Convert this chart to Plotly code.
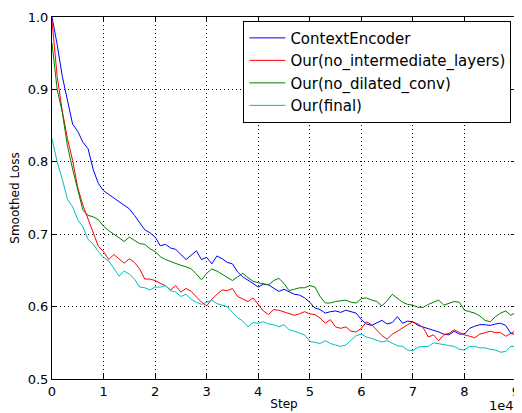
import plotly.graph_objects as go

steps = [i * 1000 for i in range(91)]

context_encoder = [
    1.000, 0.962, 0.918, 0.884, 0.852, 0.842, 0.827, 0.818, 0.789, 0.770,
    0.760, 0.755, 0.750, 0.744, 0.740, 0.735, 0.726, 0.716, 0.706, 0.702,
    0.696, 0.684, 0.686, 0.681, 0.679, 0.672, 0.665, 0.671, 0.677, 0.665,
    0.668, 0.659, 0.670, 0.666, 0.661, 0.659, 0.648, 0.641, 0.637, 0.632,
    0.627, 0.631, 0.630, 0.625, 0.621, 0.624, 0.620, 0.617, 0.616, 0.612,
    0.606, 0.598, 0.596, 0.591, 0.593, 0.594, 0.592, 0.595, 0.593, 0.591,
    0.582, 0.576, 0.574, 0.578, 0.581, 0.576, 0.578, 0.586, 0.577, 0.580,
    0.579, 0.574, 0.572, 0.570, 0.567, 0.565, 0.562, 0.561, 0.566, 0.562,
    0.562, 0.570, 0.573, 0.575, 0.575, 0.574, 0.576, 0.577, 0.574, 0.563,
    0.561,
]

no_intermediate = [
    0.995, 0.918, 0.870, 0.832, 0.802, 0.764, 0.740, 0.720, 0.700, 0.683,
    0.676, 0.665, 0.672, 0.666, 0.660, 0.666, 0.661, 0.652, 0.638, 0.638,
    0.636, 0.632, 0.629, 0.623, 0.629, 0.620, 0.625, 0.621, 0.614, 0.606,
    0.601, 0.610, 0.617, 0.623, 0.622, 0.625, 0.614, 0.610, 0.607, 0.612,
    0.603, 0.594, 0.589, 0.596, 0.595, 0.593, 0.591, 0.588, 0.590, 0.593,
    0.590, 0.589, 0.584, 0.577, 0.582, 0.572, 0.570, 0.572, 0.566, 0.565,
    0.570, 0.579, 0.575, 0.568, 0.560, 0.555, 0.562, 0.566, 0.571, 0.575,
    0.579, 0.576, 0.571, 0.558, 0.561, 0.553, 0.561, 0.563, 0.568, 0.564,
    0.561, 0.559, 0.557, 0.562, 0.564, 0.566, 0.564, 0.564, 0.559, 0.563,
    0.567,
]

no_dilated = [
    0.964, 0.900, 0.868, 0.822, 0.790, 0.760, 0.733, 0.726, 0.724, 0.720,
    0.711, 0.705, 0.700, 0.696, 0.690, 0.696, 0.692, 0.687, 0.686, 0.680,
    0.676, 0.669, 0.665, 0.662, 0.659, 0.657, 0.655, 0.652, 0.645, 0.637,
    0.646, 0.652, 0.649, 0.645, 0.641, 0.636, 0.641, 0.646, 0.640, 0.635,
    0.633, 0.632, 0.630, 0.636, 0.639, 0.632, 0.622, 0.624, 0.626, 0.626,
    0.629, 0.627, 0.614, 0.605, 0.605, 0.607, 0.608, 0.609, 0.606, 0.605,
    0.611, 0.612, 0.609, 0.607, 0.601, 0.608, 0.617, 0.612, 0.606, 0.603,
    0.602, 0.599, 0.599, 0.603, 0.606, 0.609, 0.602, 0.605, 0.607, 0.606,
    0.595, 0.593, 0.591, 0.587, 0.581, 0.579, 0.586, 0.591, 0.594, 0.588,
    0.592,
]

final = [
    0.832, 0.800, 0.776, 0.748, 0.738, 0.720, 0.710, 0.693, 0.686, 0.676,
    0.668, 0.663, 0.653, 0.642, 0.649, 0.645, 0.638, 0.627, 0.626, 0.623,
    0.627, 0.627, 0.629, 0.622, 0.620, 0.614, 0.617, 0.610, 0.606, 0.603,
    0.606, 0.609, 0.604, 0.602, 0.600, 0.592, 0.585, 0.580, 0.572, 0.578,
    0.577, 0.579, 0.576, 0.575, 0.572, 0.575, 0.568, 0.566, 0.564, 0.561,
    0.552, 0.551, 0.549, 0.553, 0.549, 0.547, 0.545, 0.547, 0.553, 0.560,
    0.562, 0.558, 0.556, 0.553, 0.551, 0.553, 0.549, 0.546, 0.545, 0.540,
    0.539, 0.544, 0.545, 0.545, 0.550, 0.549, 0.547, 0.547, 0.545, 0.541,
    0.540, 0.545, 0.545, 0.543, 0.543, 0.541, 0.540, 0.537, 0.538, 0.545,
    0.545,
]

series_names = ["ContextEncoder", "Our(no_intermediate_layers)", "Our(no_dilated_conv)", "Our(final)"]
series_colors = ["#0000ff", "#ff0000", "#008000", "#00bfbf"]
series_values = [context_encoder, no_intermediate, no_dilated, final]

x_tick_vals = [i * 10000 for i in range(10)]
x_tick_text = [str(i) for i in range(10)]
y_tick_vals = [0.5, 0.6, 0.7, 0.8, 0.9, 1.0]

fig = go.Figure()
for name, color, vals in zip(series_names, series_colors, series_values):
    fig.add_trace(go.Scatter(x=steps, y=vals, mode="lines", name=name,
                             line=dict(color=color, width=1)))

axis_common = dict(
    showline=True, linecolor="black", linewidth=1, mirror="ticks",
    ticks="inside", ticklen=5, tickcolor="black", tickwidth=1,
    showgrid=True, gridcolor="black", gridwidth=1, griddash="1px,3px",
    zeroline=False, tickfont=dict(family="DejaVu Sans", size=13, color="black"),
    ticklabeloverflow="allow",
)

# page body has an 8px margin, so the figure is sized/positioned to compensate
fig.update_layout(
    width=514, height=405,
    margin=dict(l=44, r=2, t=8, b=34),
    paper_bgcolor="white", plot_bgcolor="white",
    font=dict(family="DejaVu Sans", color="black"),
    xaxis=dict(range=[0, 90000], tickvals=x_tick_vals, ticktext=x_tick_text,
               title=dict(text="Step", font=dict(size=12), standoff=2), **axis_common),
    yaxis=dict(range=[0.5, 1.0], tickvals=y_tick_vals, tickformat=".1f",
               title=dict(text="Smoothed Loss", font=dict(size=12), standoff=6), **axis_common),
    legend=dict(x=0.4125, y=0.99, xanchor="left", yanchor="top",
                bordercolor="black", borderwidth=1, bgcolor="white",
                font=dict(family="DejaVu Sans", size=15, color="black"),
                tracegroupgap=0, itemwidth=36),
    showlegend=True,
)

fig.add_annotation(text="1e4", xref="paper", yref="paper", x=1.0, y=0, xanchor="right",
                   yanchor="top", yshift=-17, showarrow=False,
                   font=dict(family="DejaVu Sans", size=13, color="black"))

fig.write_html("out.html")
